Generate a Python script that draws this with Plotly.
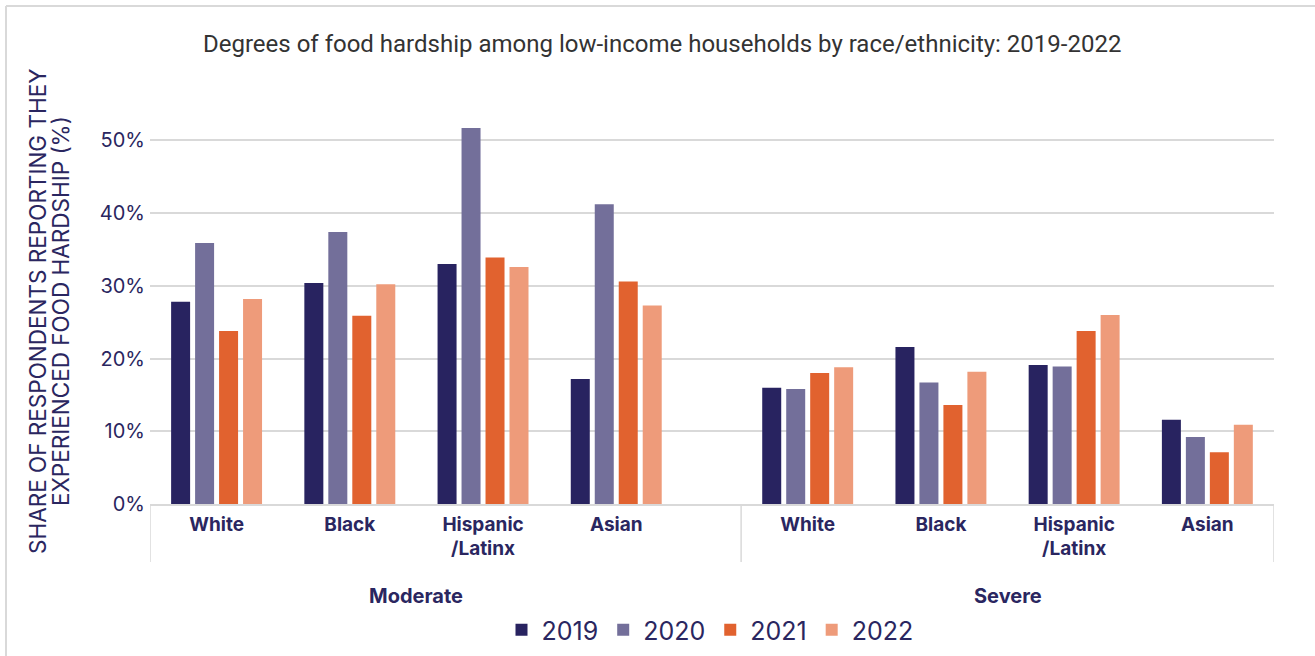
import plotly.graph_objects as go

# ---- data -------------------------------------------------------------
groups = ["Moderate", "Severe"]
races = ["White", "Black", "Hispanic<br>/Latinx", "Asian"]
years = ["2019", "2020", "2021", "2022"]

moderate_2019 = [27.8, 30.4, 33.0, 17.2]
moderate_2020 = [35.9, 37.4, 51.7, 41.2]
moderate_2021 = [23.8, 25.9, 33.9, 30.6]
moderate_2022 = [28.2, 30.2, 32.6, 27.3]

severe_2019 = [16.0, 21.6, 19.1, 11.6]
severe_2020 = [15.8, 16.7, 18.9, 9.2]
severe_2021 = [18.0, 13.6, 23.8, 7.1]
severe_2022 = [18.8, 18.2, 26.0, 10.9]

y_ticks = [0, 10, 20, 30, 40, 50]

# ---- styling ----------------------------------------------------------
colors = ["#282360", "#736f9a", "#e1622f", "#ee9b7a"]
NAVY = "#2a2660"
GRID = "#d9d9d9"
FONT = "Inter, Roboto, sans-serif"

W_PX, H_PX = 1315, 656
L, R, T, B = 150, 41, 104, 152
PW, PH = W_PX - L - R, H_PX - T - B


def px_x(px):
    return (px - L) / PW


def px_y(py):
    return (H_PX - B - py) / PH


# category slots: four per group, with a wider gap after the first group
gap_after_first = 0.437
moderate_x = [i + 0.5 for i in range(4)]
split = 4 + gap_after_first
severe_x = [split + i + 0.5 for i in range(4)]
x_end = split + 4

bar_w = 0.1426
pitch = 0.18
first_off = -0.3415

series = [
    (moderate_2019, severe_2019),
    (moderate_2020, severe_2020),
    (moderate_2021, severe_2021),
    (moderate_2022, severe_2022),
]

fig = go.Figure()
for i, (mod, sev) in enumerate(series):
    fig.add_trace(go.Bar(
        x=moderate_x + severe_x,
        y=mod + sev,
        name=years[i],
        marker=dict(color=colors[i], line=dict(width=0)),
        width=bar_w,
        offset=first_off + i * pitch,
        hovertemplate="%{y:.1f}%<extra>" + years[i] + "</extra>",
    ))

shapes = []
# group dividers under the axis
for xv in [0, split, x_end]:
    shapes.append(dict(type="line", xref="x", yref="paper",
                       x0=xv, x1=xv, y0=0, y1=px_y(562),
                       line=dict(color=GRID, width=1.5)))
# outer frame (left and top edges)
shapes.append(dict(type="line", xref="paper", yref="paper",
                   x0=px_x(6), x1=px_x(6), y0=px_y(6), y1=px_y(H_PX + 5),
                   line=dict(color=GRID, width=2)))
shapes.append(dict(type="line", xref="paper", yref="paper",
                   x0=px_x(6), x1=px_x(W_PX + 5), y0=px_y(6), y1=px_y(6),
                   line=dict(color=GRID, width=2)))

axis_title_font = dict(family=FONT, size=22.5, color=NAVY)
annotations = [
    dict(text="Degrees of food hardship among low-income households by race/ethnicity: 2019-2022",
         xref="paper", yref="paper", x=px_x(662), y=px_y(44),
         xanchor="center", yanchor="middle", showarrow=False,
         font=dict(family="Roboto, sans-serif", size=24, color="#333333")),
    dict(text="SHARE OF RESPONDENTS REPORTING THEY",
         xref="paper", yref="paper", x=px_x(37), y=px_y(311),
         xanchor="center", yanchor="middle", showarrow=False, textangle=-90,
         font=axis_title_font),
    dict(text="EXPERIENCED FOOD HARDSHIP (%)",
         xref="paper", yref="paper", x=px_x(60), y=px_y(311),
         xanchor="center", yanchor="middle", showarrow=False, textangle=-90,
         font=axis_title_font),
    dict(text="<b>Moderate</b>", xref="x", yref="paper", x=2.0, y=px_y(596),
         xanchor="center", yanchor="middle", showarrow=False,
         font=dict(family=FONT, size=20, color=NAVY)),
    dict(text="<b>Severe</b>", xref="x", yref="paper", x=split + 2.0, y=px_y(596),
         xanchor="center", yanchor="middle", showarrow=False,
         font=dict(family=FONT, size=20, color=NAVY)),
]

fig.update_layout(
    width=W_PX, height=H_PX,
    margin=dict(l=L, r=R, t=T, b=B, autoexpand=False),
    paper_bgcolor="white", plot_bgcolor="white",
    barmode="overlay",
    shapes=shapes,
    annotations=annotations,
    showlegend=True,
    legend=dict(orientation="h", xref="container", yref="container",
                x=710 / W_PX, y=1 - 630 / H_PX,
                xanchor="center", yanchor="middle",
                font=dict(family=FONT, size=25, color=NAVY),
                itemwidth=30, traceorder="normal"),
    xaxis=dict(range=[0, x_end], showgrid=False, zeroline=False,
               showline=True, linecolor=GRID, linewidth=1.5,
               tickvals=moderate_x + severe_x,
               ticktext=["<b>" + r + "</b>" for r in races] * 2,
               tickfont=dict(family=FONT, size=19, color=NAVY),
               ticks="", ticklabelstandoff=2),
    yaxis=dict(range=[0, 55], tickvals=y_ticks,
               ticktext=[f"{v}%" for v in y_ticks],
               showgrid=True, gridcolor=GRID, gridwidth=1.5,
               zeroline=False, showline=False, ticks="",
               tickfont=dict(family=FONT, size=20, color=NAVY),
               ticklabelstandoff=4),
)

fig.write_html("out.html")
